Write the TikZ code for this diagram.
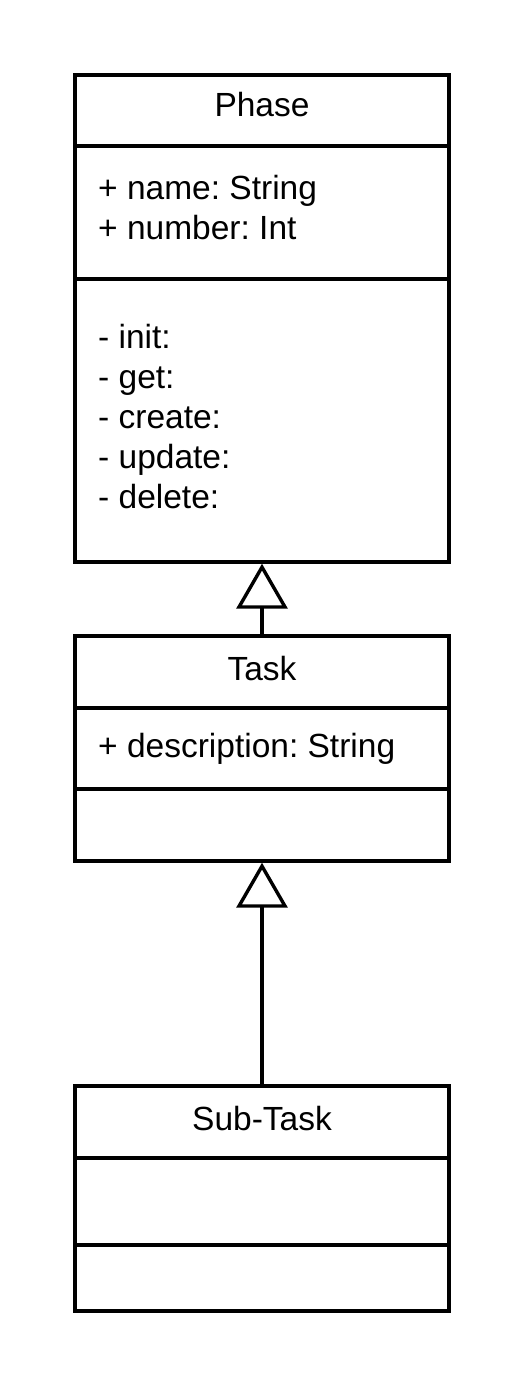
\documentclass[tikz,border=0pt]{standalone}
\usepackage{fontspec}
\setmainfont{Liberation Sans}
\usetikzlibrary{arrows.meta}
\begin{document}
\frenchspacing
\begin{tikzpicture}[x=1pt,y=-1pt,
  classbox/.style={draw,line width=3.4pt,rectangle,inner sep=0pt,minimum width=374pt},
  sep/.style={line width=3.4pt},
  lbl/.style={inner sep=0pt,anchor=base west,font=\fontsize{33.5}{40}\selectfont},
  title/.style={inner sep=0pt,anchor=base,font=\fontsize{33.5}{40}\selectfont},
  inherit/.style={line width=3.4pt,-{Triangle[open,length=45pt,width=51pt]}}]
\useasboundingbox (0,0) rectangle (525,1388);
% Phase
\node[classbox,minimum height=487pt] (phase) at (262,318.5) {};
\draw[sep] (phase.west |- 0,146) -- (phase.east |- 0,146);
\draw[sep] (phase.west |- 0,279) -- (phase.east |- 0,279);
\node[title] (phaseT) at (262,117) {Phase};
\node[lbl] (pa1) at (98,200) {+ name: String};
\node[lbl] (pa2) at (98,240) {+ number: Int};
\node[lbl] (pm1) at (98,348) {- init:};
\node[lbl] (pm2) at (98,388) {- get:};
\node[lbl] (pm3) at (98,428) {- create:};
\node[lbl] (pm4) at (98,468) {- update:};
\node[lbl] (pm5) at (98,508) {- delete:};
% Task
\node[classbox,minimum height=225pt] (task) at (262,748.5) {};
\draw[sep] (task.west |- 0,708) -- (task.east |- 0,708);
\draw[sep] (task.west |- 0,789) -- (task.east |- 0,789);
\node[title] (taskT) at (262,680) {Task};
\node[lbl] (ta1) at (98,757) {+ description: String};
% Sub-Task
\node[classbox,minimum height=225pt] (sub) at (262,1198.5) {};
\draw[sep] (sub.west |- 0,1158) -- (sub.east |- 0,1158);
\draw[sep] (sub.west |- 0,1245) -- (sub.east |- 0,1245);
\node[title] (subT) at (262,1130) {Sub-Task};
% inheritance
\draw[inherit] (task.north) -- (phase.south);
\draw[inherit] (sub.north) -- (task.south);
\end{tikzpicture}
\end{document}
